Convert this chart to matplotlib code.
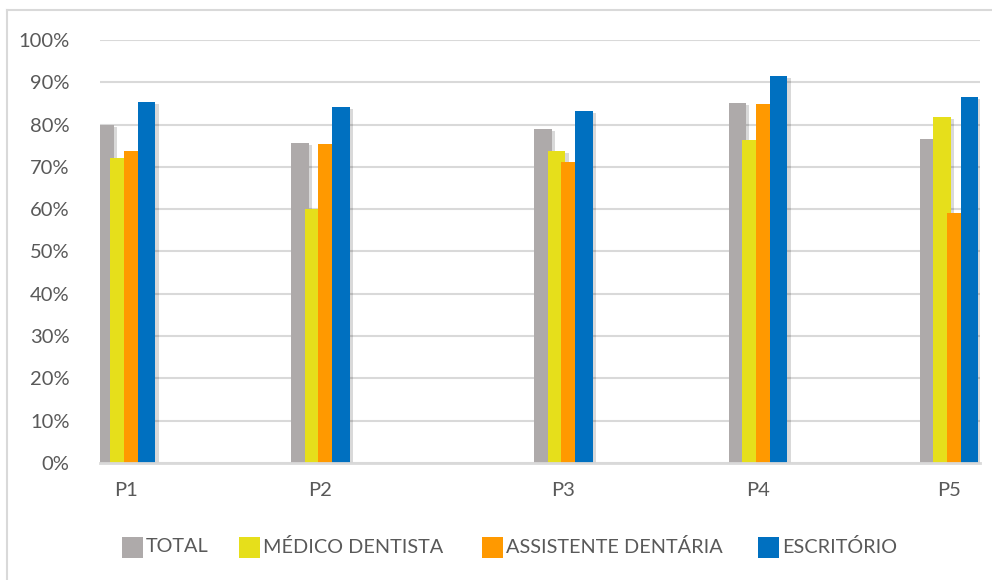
import matplotlib
matplotlib.use("Agg")
import matplotlib.pyplot as plt
from matplotlib.patches import Rectangle
from matplotlib.lines import Line2D
import matplotlib.patheffects as pe
from matplotlib.ticker import FuncFormatter

# ---- data ----
categories = ["P1", "P2", "P3", "P4", "P5"]
series_names = ["TOTAL", "MÉDICO DENTISTA", "ASSISTENTE DENTÁRIA", "ESCRITÓRIO"]
total = [80.0, 75.6, 79.0, 85.2, 76.7]
medico = [72.0, 60.0, 73.8, 76.3, 81.9]
assistente = [73.8, 75.3, 71.2, 84.9, 59.0]
escritorio = [85.3, 84.2, 83.3, 91.6, 86.6]
yticks = [0, 10, 20, 30, 40, 50, 60, 70, 80, 90, 100]

# ---- layout (category positions along x, in axis units) ----
cat_pos = [126.0, 320.5, 563.5, 758.0, 949.0]
colors = ["#AEAAAA", "#E6DF1B", "#FF9900", "#0070C0"]
bar_w = 17.5
step = 13.7
group_half = 29.5

plt.rcParams['font.family'] = ['Lato', 'DejaVu Sans']
W, H = 992, 580
fig = plt.figure(figsize=(W / 100, H / 100), dpi=100)
ax = fig.add_axes([100 / W, 1 - 463 / H, 880 / W, 423 / H])

text_color = "#595959"
grid_color = "#D9D9D9"

all_series = [total, medico, assistente, escritorio]
shadow = [pe.SimplePatchShadow(offset=(2.5, -1.5), shadow_rgbFace="#000000", alpha=0.15), pe.Normal()]
for i, (vals, col) in enumerate(zip(all_series, colors)):
    lefts = [c - group_half + i * step for c in cat_pos]
    bars = ax.bar(lefts, vals, width=bar_w, align="edge", color=col,
                  linewidth=0, zorder=3 + i)
    for b in bars:
        b.set_path_effects(shadow)

ax.set_xlim(100, 980)
ax.set_ylim(0, 100)
ax.set_yticks(yticks)
ax.yaxis.set_major_formatter(FuncFormatter(lambda v, p: f"{int(v)}%"))
ax.set_xticks(cat_pos)
ax.set_xticklabels(categories)
ax.tick_params(axis="both", length=0, labelsize=14.5, colors=text_color)
ax.tick_params(axis="y", pad=22)
ax.tick_params(axis="x", pad=14)

ax.grid(axis="y", color=grid_color, linewidth=1.5, zorder=0)
ax.set_axisbelow(True)
for s in ["top", "right", "left"]:
    ax.spines[s].set_visible(False)
ax.spines["bottom"].set_color(grid_color)
ax.spines["bottom"].set_linewidth(2)
ax.spines["bottom"].set_zorder(10)

# outer chart border
fig.add_artist(Line2D([7 / W, 7 / W], [0, 1 - 10 / H], color=grid_color, linewidth=1.5, transform=fig.transFigure))
fig.add_artist(Line2D([7 / W, 1], [1 - 10 / H, 1 - 10 / H], color=grid_color, linewidth=1.5, transform=fig.transFigure))

# legend (manual)
leg_x = [122, 239, 482, 758]
leg_y = 547
sq = 21
for x0, name, col in zip(leg_x, series_names, colors):
    fig.add_artist(Rectangle((x0 / W, (H - leg_y - sq / 2) / H), sq / W, sq / H,
                             transform=fig.transFigure, facecolor=col, edgecolor="none"))
    fig.text((x0 + sq + 3) / W, (H - leg_y) / H, name, fontsize=14.3, color=text_color,
             ha="left", va="center")

fig.savefig("out.png", dpi=100)
